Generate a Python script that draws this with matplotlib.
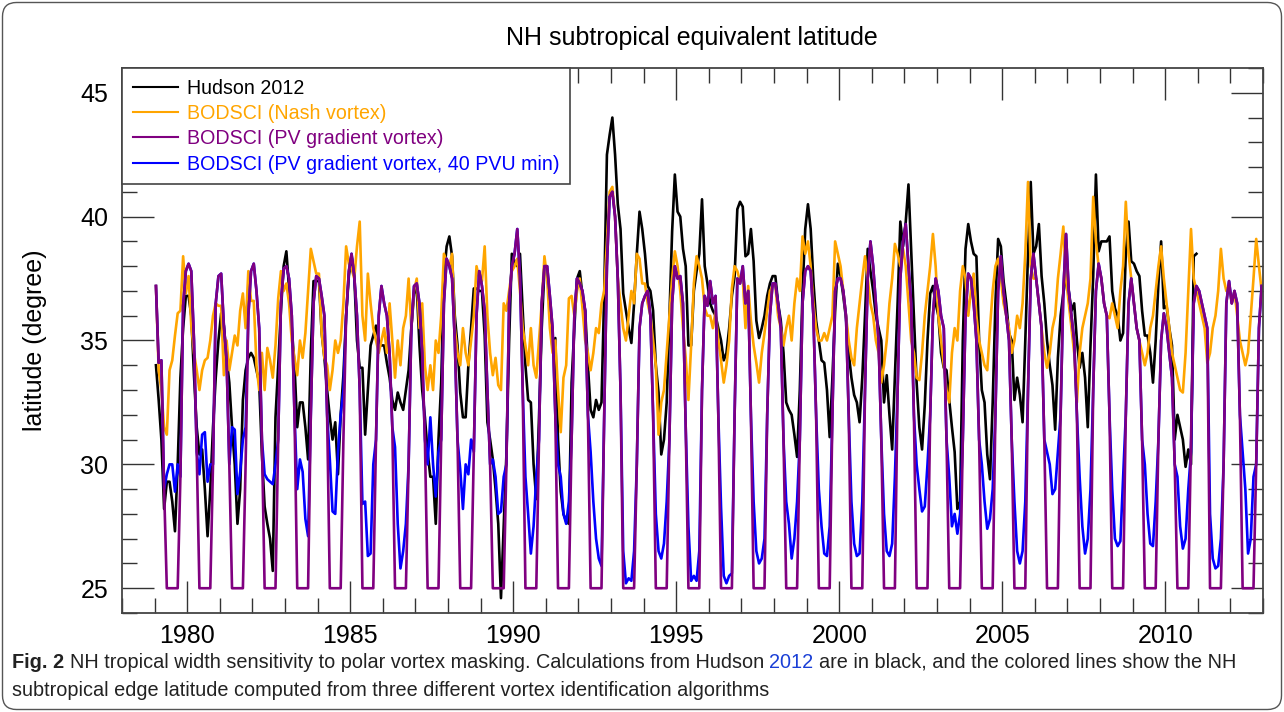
import numpy as np
import matplotlib
matplotlib.use('Agg')
import matplotlib.pyplot as plt
from matplotlib.patches import FancyBboxPatch
from matplotlib.transforms import IdentityTransform
from matplotlib.ticker import MultipleLocator

plt.rcParams['font.family'] = ['Liberation Sans', 'DejaVu Sans']

start_year = 1979

# monthly values, one row per year (Jan..Dec)
hudson_2012 = [
    [34.0, 32.6, 31.0, 28.2, 29.3, 29.3, 28.5, 27.3, 30.0, 33.5, 35.5, 36.8],  # 1979
    [36.8, 36.0, 33.6, 31.5, 30.4, 30.6, 29.0, 27.1, 29.0, 31.5, 33.5, 35.0],
    [36.1, 35.6, 34.3, 33.3, 31.5, 30.0, 27.6, 29.0, 32.6, 33.8, 34.3, 34.5],
    [34.3, 33.8, 33.3, 30.4, 28.3, 27.6, 27.0, 25.7, 31.9, 34.0, 36.2, 38.0],
    [38.6, 37.1, 35.5, 34.0, 31.5, 32.5, 32.5, 31.5, 30.2, 34.5, 37.4, 37.4],
    [37.4, 35.3, 34.3, 33.0, 31.9, 31.0, 31.7, 29.6, 32.0, 33.6, 36.0, 37.6],
    [38.4, 37.6, 35.0, 33.9, 33.9, 31.2, 33.0, 34.8, 35.2, 35.6, 35.0, 34.8],
    [34.8, 34.1, 33.5, 32.6, 32.2, 32.9, 32.5, 32.2, 33.0, 33.8, 35.5, 36.9],
    [37.1, 34.8, 33.0, 31.9, 30.5, 29.5, 29.5, 27.6, 31.0, 33.3, 37.6, 38.8],
    [39.2, 38.4, 36.0, 34.8, 32.9, 31.9, 31.9, 34.0, 35.5, 37.1, 37.1, 37.0],
    [37.0, 35.2, 31.7, 31.0, 30.2, 29.0, 27.6, 24.6, 27.5, 30.4, 35.0, 38.5],  # 1989
    [38.2, 38.0, 38.5, 36.2, 34.0, 32.6, 32.5, 30.0, 28.6, 31.9, 35.5, 37.9],
    [37.8, 36.5, 34.6, 35.1, 31.0, 28.9, 28.0, 27.7, 27.6, 33.3, 35.5, 37.5],
    [37.8, 36.8, 36.2, 34.0, 32.2, 31.9, 32.6, 32.2, 32.5, 36.9, 42.5, 43.3],
    [44.0, 42.5, 40.5, 39.5, 36.9, 36.2, 35.5, 34.9, 36.5, 38.5, 40.2, 39.5],
    [38.5, 37.2, 37.0, 36.2, 34.0, 32.9, 30.4, 31.0, 32.5, 36.0, 39.4, 41.7],
    [40.2, 40.0, 38.7, 38.0, 34.8, 34.8, 37.0, 37.8, 38.5, 40.7, 38.0, 37.3],
    [36.5, 36.2, 36.0, 35.5, 35.0, 34.2, 34.5, 35.5, 36.8, 37.6, 40.3, 40.6],
    [40.4, 38.4, 38.5, 39.5, 38.2, 35.8, 35.1, 35.5, 36.0, 36.8, 37.3, 37.6],
    [37.6, 36.5, 35.8, 34.5, 32.5, 32.2, 32.0, 31.2, 30.3, 33.0, 37.0, 39.5],
    [40.5, 39.5, 37.4, 35.8, 35.0, 34.2, 34.1, 33.0, 31.1, 33.5, 36.2, 38.1],  # 1999
    [37.6, 36.8, 35.9, 34.5, 33.5, 32.8, 32.5, 31.7, 33.5, 36.0, 38.7, 37.8],
    [37.0, 36.0, 35.5, 35.0, 32.5, 33.6, 32.0, 30.6, 33.5, 36.5, 39.8, 38.8],
    [39.8, 41.3, 38.6, 36.0, 33.3, 31.5, 30.6, 32.4, 35.0, 36.9, 37.2, 36.5],
    [36.0, 34.5, 33.9, 33.8, 32.6, 31.5, 30.5, 28.2, 28.5, 35.0, 38.7, 39.7],
    [39.0, 38.5, 38.4, 35.0, 33.0, 32.5, 30.4, 29.4, 32.5, 36.5, 39.1, 38.8],
    [37.4, 36.5, 35.3, 35.0, 32.6, 33.5, 32.8, 31.7, 35.0, 38.5, 41.4, 38.5],
    [38.8, 39.7, 37.6, 36.5, 35.0, 34.0, 33.2, 31.4, 34.3, 36.0, 36.9, 37.6],
    [37.0, 36.2, 36.5, 35.0, 33.9, 34.5, 33.5, 31.5, 34.8, 37.6, 41.7, 38.6],
    [39.0, 39.0, 39.0, 39.2, 37.0, 36.3, 36.0, 35.0, 35.3, 38.5, 39.8, 38.2],
    [38.1, 37.8, 37.6, 36.2, 35.2, 35.2, 34.5, 33.3, 35.0, 37.3, 39.0, 36.3],
    [36.4, 35.5, 34.8, 31.0, 32.0, 31.5, 31.0, 29.9, 30.6, 30.0, 38.4, 38.5],  # 2010
]

nash_vortex = [
    [37.2, 33.8, 33.0, 31.5, 31.2, 33.8, 34.2, 35.2, 36.1, 36.2, 38.4, 36.9],  # 1979
    [37.6, 35.6, 34.5, 33.8, 33.0, 33.8, 34.2, 34.3, 35.0, 36.0, 36.5, 36.4],
    [36.4, 33.6, 35.0, 33.8, 34.5, 35.2, 34.8, 36.2, 36.9, 35.5, 37.8, 36.6],
    [36.6, 34.0, 33.0, 34.5, 33.0, 34.7, 34.2, 33.5, 34.8, 36.7, 37.8, 37.0],
    [37.3, 36.5, 35.0, 34.3, 33.6, 35.0, 34.3, 35.3, 37.0, 38.7, 38.2, 37.7],
    [37.7, 35.3, 34.3, 34.0, 33.0, 33.8, 35.0, 34.5, 35.0, 36.5, 38.8, 38.1],
    [37.9, 37.5, 38.8, 39.8, 36.0, 35.0, 37.7, 36.5, 35.5, 35.0, 34.5, 35.0],
    [35.5, 34.5, 36.5, 35.0, 33.5, 35.0, 34.0, 35.5, 36.0, 37.5, 35.5, 37.0],
    [37.5, 35.5, 36.5, 34.0, 33.0, 34.0, 33.0, 35.0, 34.5, 36.0, 38.5, 38.2],
    [38.0, 38.5, 35.5, 34.5, 34.0, 35.5, 34.5, 34.0, 35.0, 36.0, 38.0, 37.5],
    [37.4, 38.8, 36.0, 34.5, 33.6, 34.3, 33.2, 33.0, 36.5, 36.2, 37.0, 37.8],  # 1989
    [38.0, 38.3, 37.0, 35.5, 34.8, 34.0, 35.5, 34.0, 33.5, 35.0, 36.5, 38.4],
    [37.5, 35.5, 34.5, 35.0, 33.0, 31.3, 33.5, 34.0, 36.7, 36.8, 36.0, 37.0],
    [37.5, 36.3, 35.0, 34.5, 33.8, 34.5, 35.5, 35.3, 36.5, 37.0, 39.0, 41.0],
    [41.2, 40.0, 37.5, 36.5, 35.5, 35.0, 36.0, 37.0, 36.5, 38.5, 38.3, 37.3],
    [37.3, 36.5, 36.0, 35.0, 34.0, 31.2, 32.5, 33.0, 34.5, 36.0, 37.5, 38.6],
    [38.0, 37.0, 35.5, 34.3, 32.6, 34.8, 37.3, 38.4, 38.0, 37.5, 36.3, 36.0],
    [36.0, 35.5, 36.2, 35.0, 34.2, 33.3, 34.0, 35.0, 37.1, 38.0, 37.8, 37.4],
    [37.5, 35.5, 37.2, 35.8, 34.8, 34.1, 33.3, 34.5, 35.3, 36.2, 37.0, 37.2],
    [37.2, 36.0, 35.5, 34.8, 35.5, 36.0, 35.0, 36.5, 37.5, 37.0, 39.2, 38.5],
    [39.0, 38.0, 36.5, 35.5, 35.0, 35.0, 35.3, 35.0, 35.5, 36.0, 39.0, 38.5],  # 1999
    [38.0, 37.0, 36.0, 35.0, 34.3, 34.0, 35.5, 36.5, 37.5, 38.4, 37.5, 36.5],
    [36.0, 35.0, 34.5, 33.3, 34.0, 35.0, 36.5, 37.5, 38.9, 38.5, 38.0, 38.7],
    [38.0, 36.5, 35.0, 34.5, 33.5, 33.4, 34.5, 36.0, 37.0, 38.0, 39.3, 38.0],
    [36.0, 35.0, 34.0, 33.0, 32.5, 34.5, 35.5, 35.0, 37.0, 38.0, 37.5, 36.0],
    [37.0, 37.7, 36.0, 35.0, 34.5, 34.0, 33.8, 35.5, 37.0, 38.0, 38.3, 37.5],
    [36.5, 36.0, 35.5, 34.5, 35.0, 36.0, 35.5, 36.5, 38.5, 41.4, 38.0, 37.5],
    [37.5, 36.5, 35.5, 34.5, 33.9, 34.5, 35.5, 36.0, 37.5, 38.5, 39.6, 37.5],
    [36.5, 35.5, 34.5, 32.5, 34.5, 35.5, 36.0, 36.5, 37.5, 40.8, 39.0, 38.0],
    [37.5, 36.5, 36.0, 35.9, 36.5, 36.0, 35.5, 37.0, 38.0, 40.6, 38.5, 37.5],
    [36.5, 35.5, 35.0, 34.5, 34.0, 34.5, 35.5, 36.0, 37.0, 38.0, 38.8, 37.5],
    [36.5, 35.5, 34.5, 34.0, 33.5, 33.0, 32.9, 34.5, 37.0, 39.5, 37.5, 37.0],
    [36.5, 36.0, 35.5, 34.1, 34.5, 35.5, 36.0, 37.0, 38.7, 37.5, 37.0, 37.2],
    [36.5, 37.0, 36.0, 35.0, 34.5, 34.0, 34.5, 36.0, 37.5, 39.1, 38.0, 37.0],  # 2012
]

pv_gradient = [
    [37.2, 34.1, 34.2, 29.0, 25, 25, 25, 25, 25, 29.5, 36.4, 37.8],  # 1979
    [38.1, 37.8, 35.0, 30.5, 25, 25, 25, 25, 25, 30.0, 36.5, 37.6],
    [37.7, 35.6, 34.2, 30.0, 25, 25, 25, 25, 25, 30.0, 36.0, 37.8],
    [38.1, 37.0, 35.5, 31.0, 25, 25, 25, 25, 25, 31.0, 36.5, 37.9],
    [38.0, 37.5, 36.0, 32.0, 25, 25, 25, 25, 25, 32.0, 36.5, 37.6],
    [37.5, 36.8, 36.0, 32.0, 25, 25, 25, 25, 25, 31.0, 36.0, 37.8],
    [38.5, 37.6, 36.0, 33.0, 25, 25, 25, 25, 25, 31.0, 36.0, 37.2],
    [36.5, 36.0, 34.5, 31.5, 25, 25, 25, 25, 25, 30.0, 35.5, 37.2],
    [37.3, 36.5, 34.5, 31.0, 25, 25, 25, 25, 25, 31.0, 36.5, 38.3],
    [38.0, 37.5, 35.0, 31.0, 25, 25, 25, 25, 25, 30.5, 36.0, 37.8],
    [37.2, 36.2, 33.0, 30.0, 25, 25, 25, 25, 25, 30.0, 36.5, 38.0],  # 1989
    [38.5, 39.5, 37.6, 33.0, 25, 25, 25, 25, 25, 31.0, 36.5, 38.0],
    [38.0, 36.8, 35.5, 32.0, 25, 25, 25, 25, 25, 31.0, 36.0, 37.5],
    [37.3, 37.0, 36.2, 32.0, 25, 25, 25, 25, 25, 32.0, 38.0, 40.8],
    [41.0, 40.0, 37.5, 33.0, 25, 25, 25, 25, 25, 30.0, 35.5, 36.5],
    [36.8, 37.0, 36.0, 32.0, 25, 25, 25, 25, 25, 31.0, 36.5, 38.0],
    [37.5, 37.6, 36.5, 31.5, 25, 25, 25, 25, 25, 33.0, 36.8, 36.4],
    [37.4, 36.5, 36.8, 32.0, 25, 25, 25, 25, 25, 32.0, 37.5, 37.3],
    [38.0, 36.5, 37.0, 32.0, 25, 25, 25, 25, 25, 32.0, 36.0, 37.3],
    [37.3, 36.5, 35.5, 31.0, 25, 25, 25, 25, 25, 31.0, 36.5, 37.8],
    [38.0, 37.8, 36.0, 32.0, 25, 25, 25, 25, 25, 32.0, 37.0, 37.5],  # 1999
    [37.5, 37.0, 36.0, 32.0, 25, 25, 25, 25, 25, 33.0, 37.5, 39.0],
    [38.0, 36.5, 35.0, 31.0, 25, 25, 25, 25, 25, 33.0, 37.5, 39.0],
    [39.7, 38.0, 36.5, 32.0, 25, 25, 25, 25, 25, 32.0, 36.0, 37.5],
    [37.0, 36.0, 35.5, 31.0, 25, 25, 25, 25, 25, 31.0, 36.0, 37.7],
    [37.5, 36.5, 35.0, 31.0, 25, 25, 25, 25, 25, 32.0, 37.0, 38.4],
    [37.0, 36.0, 35.0, 31.0, 25, 25, 25, 25, 25, 33.0, 37.5, 38.5],
    [37.5, 36.5, 35.5, 31.0, 25, 25, 25, 25, 25, 32.0, 37.0, 39.3],
    [37.0, 36.0, 35.0, 32.0, 25, 25, 25, 25, 25, 33.0, 37.0, 38.1],
    [37.5, 36.5, 36.0, 32.0, 25, 25, 25, 25, 25, 32.0, 36.5, 37.5],
    [36.5, 35.5, 35.0, 31.0, 25, 25, 25, 25, 25, 31.0, 35.0, 36.1],
    [35.5, 34.5, 33.5, 30.0, 25, 25, 25, 25, 25, 31.0, 36.5, 37.2],
    [37.0, 36.5, 36.0, 35.5, 25, 25, 25, 25, 25, 30.0, 36.5, 37.4],
    [36.5, 37.0, 36.5, 32.0, 25, 25, 25, 25, 25, 30.0, 35.5, 37.2],  # 2012
]

pv_gradient_40pvu = [
    [37.2, 34.1, 34.2, 29.0, 29.6, 30.0, 30.0, 28.9, 30.0, 29.5, 36.4, 37.8],  # 1979
    [38.1, 37.8, 35.0, 30.5, 29.6, 31.2, 31.3, 29.3, 30.0, 30.0, 36.5, 37.6],
    [37.7, 35.6, 34.2, 30.0, 31.5, 31.4, 28.8, 29.7, 31.0, 31.5, 36.0, 37.8],
    [38.1, 37.0, 35.5, 31.0, 29.6, 29.4, 29.3, 29.2, 30.0, 31.0, 36.5, 37.9],
    [38.0, 37.5, 36.0, 32.0, 29.0, 30.2, 29.7, 27.8, 27.1, 32.0, 36.5, 37.6],
    [37.5, 36.8, 36.0, 32.0, 30.2, 28.1, 28.0, 30.5, 32.0, 33.0, 36.0, 37.8],
    [38.5, 37.6, 36.0, 33.0, 28.4, 28.5, 26.3, 26.4, 30.0, 31.0, 36.0, 37.2],
    [36.5, 36.0, 34.5, 31.5, 30.7, 27.6, 25.8, 26.5, 27.6, 30.0, 35.5, 37.2],
    [37.3, 36.5, 34.5, 31.0, 30.0, 31.9, 30.0, 28.7, 30.5, 31.0, 36.5, 38.3],
    [38.0, 37.5, 35.0, 31.0, 29.8, 28.2, 30.0, 29.6, 31.0, 30.5, 36.0, 37.8],
    [37.2, 36.2, 33.0, 30.0, 30.2, 29.5, 28.0, 28.1, 29.5, 30.0, 36.5, 38.0],  # 1989
    [38.5, 39.5, 37.6, 33.0, 29.5, 28.0, 26.4, 27.5, 29.5, 31.0, 36.5, 38.0],
    [38.0, 36.8, 35.5, 32.0, 30.0, 29.5, 28.0, 27.6, 28.5, 31.0, 36.0, 37.5],
    [37.3, 37.0, 36.2, 32.0, 30.5, 28.5, 27.0, 26.2, 25.9, 32.0, 38.0, 40.8],
    [41.0, 40.0, 37.5, 33.0, 26.5, 25.2, 25.4, 25.3, 26.5, 30.0, 35.5, 36.5],
    [36.8, 37.0, 36.0, 32.0, 28.0, 26.5, 26.2, 26.8, 28.5, 31.0, 36.5, 38.0],
    [37.5, 37.6, 36.5, 31.5, 27.5, 25.3, 25.5, 25.3, 26.5, 33.0, 36.8, 36.4],
    [37.4, 36.5, 36.8, 32.0, 28.3, 25.5, 25.2, 25.5, 25.6, 32.0, 37.5, 37.3],
    [38.0, 36.5, 37.0, 32.0, 28.5, 26.5, 26.0, 26.2, 27.0, 32.0, 36.0, 37.3],
    [37.3, 36.5, 35.5, 31.0, 28.5, 27.6, 26.2, 27.0, 28.5, 31.0, 36.5, 37.8],
    [38.0, 37.8, 36.0, 32.0, 29.0, 27.5, 26.4, 26.3, 27.5, 32.0, 37.0, 37.5],  # 1999
    [37.5, 37.0, 36.0, 32.0, 28.5, 26.8, 26.3, 26.4, 28.5, 33.0, 37.5, 39.0],
    [38.0, 36.5, 35.0, 31.0, 28.0, 26.5, 26.3, 26.8, 29.5, 33.0, 37.5, 39.0],
    [39.7, 38.0, 36.5, 32.0, 30.0, 29.0, 28.1, 28.3, 30.0, 32.0, 36.0, 37.5],
    [37.0, 36.0, 35.5, 31.0, 29.5, 27.5, 28.0, 27.2, 28.0, 31.0, 36.0, 37.7],
    [37.5, 36.5, 35.0, 31.0, 30.0, 28.5, 27.4, 27.8, 29.0, 32.0, 37.0, 38.4],
    [37.0, 36.0, 35.0, 31.0, 28.5, 26.5, 26.0, 26.5, 28.5, 33.0, 37.5, 38.5],
    [37.5, 36.5, 35.5, 31.0, 30.5, 30.0, 28.8, 29.0, 30.5, 32.0, 37.0, 39.3],
    [37.0, 36.0, 35.0, 32.0, 29.5, 27.5, 26.4, 27.0, 29.0, 33.0, 37.0, 38.1],
    [37.5, 36.5, 36.0, 32.0, 29.0, 27.0, 26.7, 26.9, 29.5, 32.0, 36.5, 37.5],
    [36.5, 35.5, 35.0, 31.0, 30.0, 28.0, 26.8, 26.7, 28.5, 31.0, 35.0, 36.1],
    [35.5, 34.5, 33.5, 30.0, 29.5, 27.5, 26.6, 27.0, 29.0, 30.5, 36.5, 37.2],
    [37.0, 36.5, 36.0, 35.5, 28.0, 26.2, 25.8, 25.9, 27.0, 30.0, 36.5, 37.4],
    [36.5, 37.0, 36.5, 32.0, 30.5, 29.0, 26.4, 27.0, 29.5, 30.0, 35.5, 37.2],  # 2012
]

series_labels = ['Hudson 2012', 'BODSCI (Nash vortex)', 'BODSCI (PV gradient vortex)',
                 'BODSCI (PV gradient vortex, 40 PVU min)']
series_colors = ['black', '#FFA500', '#800080', '#0000FF']

title = 'NH subtropical equivalent latitude'
ylabel = 'latitude (degree)'


def monthly(rows):
    vals = np.array([v for r in rows for v in r], dtype=float)
    t = start_year + (np.arange(len(vals)) + 0.5) / 12.0
    return t, vals


W, H = 1284, 712
fig = plt.figure(figsize=(W / 100, H / 100), dpi=100)
ax = fig.add_axes([122 / W, 1 - 613 / H, (1263 - 122) / W, (613 - 68) / H])

lw = 1.9
t, v = monthly(hudson_2012)
l_h, = ax.plot(t, v, color=series_colors[0], lw=lw, label=series_labels[0])
t, v = monthly(nash_vortex)
l_n, = ax.plot(t, v, color=series_colors[1], lw=lw, label=series_labels[1])
t, v = monthly(pv_gradient_40pvu)
l_b, = ax.plot(t, v, color=series_colors[3], lw=lw, label=series_labels[3])
t, v = monthly(pv_gradient)
l_p, = ax.plot(t, v, color=series_colors[2], lw=lw, label=series_labels[2])

ax.set_xlim(1978, 2013)
ax.set_ylim(24, 46)
ax.xaxis.set_major_locator(MultipleLocator(5))
ax.xaxis.set_minor_locator(MultipleLocator(1))
ax.yaxis.set_major_locator(MultipleLocator(5))
ax.yaxis.set_minor_locator(MultipleLocator(1))
ax.tick_params(which='both', direction='in', top=True, right=True,
               color='#333333', width=1.0, labelsize=18)
ax.tick_params(which='major', length=23)
ax.tick_params(which='minor', length=11)
ax.tick_params(axis='y', pad=10)
ax.tick_params(axis='x', pad=8)
for s in ax.spines.values():
    s.set_color('#444444')
    s.set_linewidth(1.3)

ax.set_ylabel(ylabel, fontsize=18)
ax.yaxis.set_label_coords(-0.066, 0.5)

leg = ax.legend([l_h, l_n, l_p, l_b], series_labels,
                loc='upper left', borderaxespad=0, fancybox=False,
                edgecolor='#444444', framealpha=1, fontsize=14.1,
                handlelength=2.3, handletextpad=0.45, labelspacing=0.32,
                borderpad=0.55, labelcolor='linecolor')
leg.get_frame().set_linewidth(1.2)
for ln in leg.get_lines():
    ln.set_linewidth(1.5)

fig.text(692 / W, 1 - 38 / H, title, ha='center', va='center', fontsize=18)

# caption under the chart
cap_font = ['Liberation Sans Narrow', 'Liberation Sans']
cap_size = 14.3
renderer = fig.canvas.get_renderer()
probe1 = fig.text(0, 0, 'x x', fontsize=cap_size, family=cap_font)
probe2 = fig.text(0, 0, 'xx', fontsize=cap_size, family=cap_font)
space_px = probe1.get_window_extent(renderer).width - probe2.get_window_extent(renderer).width
probe1.remove()
probe2.remove()

line1 = [('Fig. 2', 'bold', '#222222'),
         ('NH tropical width sensitivity to polar vortex masking. Calculations from Hudson', 'normal', '#222222'),
         ('2012', 'normal', '#1a3fd6'),
         ('are in black, and the colored lines show the NH', 'normal', '#222222')]
line2 = 'subtropical edge latitude computed from three different vortex identification algorithms'

x = 12
y1 = 1 - 662 / H
for txt, wt, col in line1:
    tt = fig.text(x / W, y1, txt, fontsize=cap_size, family=cap_font, weight=wt,
                  color=col, va='center', ha='left')
    x = tt.get_window_extent(renderer).x1 + space_px
fig.text(12 / W, 1 - 690 / H, line2, fontsize=cap_size, family=cap_font,
         color='#222222', va='center', ha='left')

frame = FancyBboxPatch((2.5, 2.5), W - 5, H - 5, boxstyle='round,pad=0,rounding_size=14',
                       transform=IdentityTransform(), fill=False, ec='#555555', lw=1.0)
fig.add_artist(frame)

fig.savefig('out.png', dpi=100)
